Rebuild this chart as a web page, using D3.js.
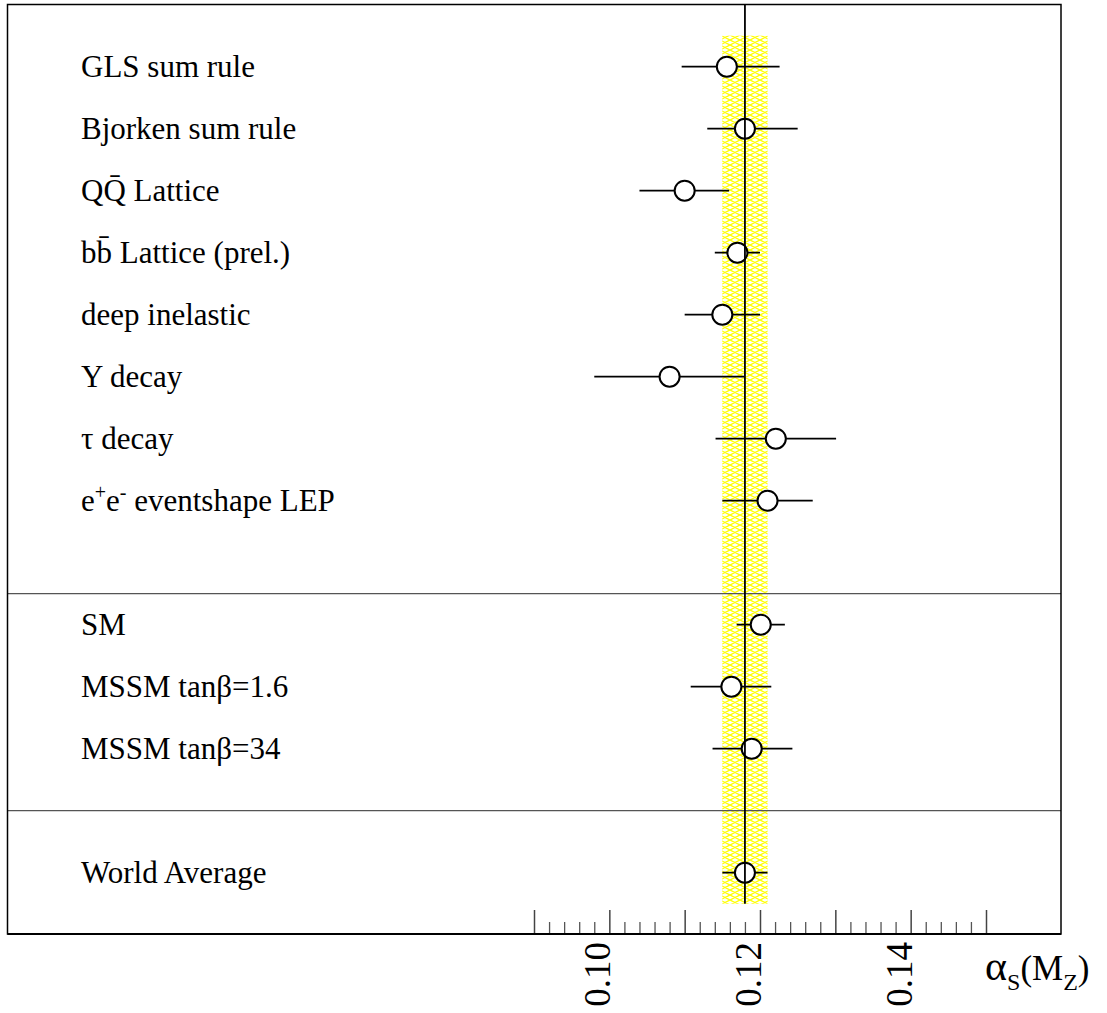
<!DOCTYPE html>
<html>
<head>
<meta charset="utf-8">
<script src="https://cdn.jsdelivr.net/npm/d3@7"></script>
<style>
  html, body { margin: 0; padding: 0; background: #fff; }
  svg { display: block; }
</style>
</head>
<body>
<svg id="chart" width="1107" height="1013" font-family="'Liberation Serif', 'Times New Roman', Times, 'DejaVu Serif', serif"></svg>
<script>
// ---------------- data ----------------
const labels = [
  "GLS sum rule", "Bjorken sum rule", "QQ\u0304 Lattice", "bb\u0304 Lattice (prel.)",
  "deep inelastic", "\u03A5 decay", "\u03C4 decay", "e+e- eventshape LEP",
  "SM", "MSSM tan\u03B2=1.6", "MSSM tan\u03B2=34", "World Average"
];
const rows      = [0, 1, 2, 3, 4, 5, 6, 7, 9, 10, 11, 13];
const centers   = [0.1156, 0.1180, 0.1100, 0.1170, 0.1150, 0.1080, 0.1221, 0.1210, 0.1201, 0.1162, 0.1189, 0.1180];
const lows      = [0.1096, 0.1130, 0.1040, 0.1140, 0.1100, 0.0980, 0.1141, 0.1150, 0.1169, 0.1108, 0.1137, 0.1150];
const highs     = [0.1226, 0.1250, 0.1159, 0.1200, 0.1200, 0.1179, 0.1301, 0.1270, 0.1233, 0.1215, 0.1243, 0.1210];
const separators = [8.5, 12];
const average = 0.118, bandLow = 0.115, bandHigh = 0.121;
const majorTicks = [0.09, 0.10, 0.11, 0.12, 0.13, 0.14, 0.15];
const tickLabels = ["0.10", "0.12", "0.14"];
const tickLabelValues = [0.10, 0.12, 0.14];

// ---------------- layout ----------------
const svg = d3.select("#chart");
const frameL = 7.5, frameR = 1061, frameT = 4.5, frameB = 934;
const serif = "'Liberation Serif', 'Times New Roman', Times, 'DejaVu Serif', serif";

const x = d3.scaleLinear().domain([0.09, 0.15]).range([534, 986]);
const y = d3.scaleLinear().domain([-1, 14]).range([4.7, 934.7]);

// hatch pattern for band
const defs = svg.append("defs");
const pat = defs.append("pattern")
  .attr("id", "hatch").attr("patternUnits", "userSpaceOnUse")
  .attr("width", 10).attr("height", 5);
pat.append("rect").attr("width", 10).attr("height", 5).attr("fill", "#fff");
pat.append("path")
  .attr("d", "M0,0 L5,2.5 L10,0 M0,5 L5,2.5 L10,5")
  .attr("stroke", "#ffff00").attr("stroke-width", 1.3).attr("fill", "none");

// band
svg.append("rect")
  .attr("x", x(bandLow)).attr("y", y(-0.5))
  .attr("width", x(bandHigh) - x(bandLow))
  .attr("height", y(13.5) - y(-0.5))
  .attr("fill", "url(#hatch)");

// separators
svg.selectAll("line.sep").data(separators).enter().append("line")
  .attr("class", "sep")
  .attr("x1", frameL).attr("x2", frameR)
  .attr("y1", d => y(d)).attr("y2", d => y(d))
  .attr("stroke", "#555").attr("stroke-width", 1.2);

// frame
svg.append("rect")
  .attr("x", frameL).attr("y", frameT)
  .attr("width", frameR - frameL).attr("height", frameB - frameT)
  .attr("fill", "none").attr("stroke", "#000").attr("stroke-width", 1.5);

// axis ticks (pointing up, inside frame)
const minorTicks = d3.range(0, 31).map(i => +(0.09 + i * 0.002).toFixed(3))
  .filter(v => !majorTicks.some(m => Math.abs(m - v) < 1e-9));
const axisG = svg.append("g").attr("transform", `translate(0,${frameB})`);
axisG.append("g").call(d3.axisTop(x).tickValues(minorTicks).tickSize(12).tickFormat(""))
  .call(g => g.select(".domain").remove())
  .call(g => g.selectAll("line").attr("stroke", "#555").attr("stroke-width", 1.3));
axisG.append("g").call(d3.axisTop(x).tickValues(majorTicks).tickSize(24).tickFormat(""))
  .call(g => g.select(".domain").remove())
  .call(g => g.selectAll("line").attr("stroke", "#444").attr("stroke-width", 1.5));
svg.append("line")
  .attr("x1", frameL).attr("x2", frameR).attr("y1", frameB).attr("y2", frameB)
  .attr("stroke", "#000").attr("stroke-width", 2);

// tick labels, rotated
svg.selectAll("text.tl").data(tickLabelValues).enter().append("text")
  .attr("class", "tl")
  .attr("transform", d => `translate(${x(d) + 1},${942}) rotate(-90)`)
  .attr("text-anchor", "end")
  .attr("font-family", serif)
  .style("font-size", "37px")
  .text((d, i) => tickLabels[i]);

// axis title
const title = svg.append("text").attr("x", 985).attr("y", 980)
  .attr("font-family", serif).style("font-size", "35px");
title.append("tspan").style("font-size", "42px").text("\u03B1");
title.append("tspan").attr("dy", 10).style("font-size", "24px").text("S");
title.append("tspan").attr("dy", -10).text("(M");
title.append("tspan").attr("dy", 10).style("font-size", "24px").text("Z");
title.append("tspan").attr("dy", -10).text(")");

// error bars
const pts = labels.map((l, i) => ({label: l, row: rows[i], c: centers[i], lo: lows[i], hi: highs[i]}));
svg.selectAll("line.err").data(pts).enter().append("line")
  .attr("class", "err")
  .attr("x1", d => x(d.lo)).attr("x2", d => x(d.hi))
  .attr("y1", d => y(d.row)).attr("y2", d => y(d.row))
  .attr("stroke", "#000").attr("stroke-width", 1.7);

// markers
svg.selectAll("circle.pt").data(pts).enter().append("circle")
  .attr("class", "pt")
  .attr("cx", d => x(d.c)).attr("cy", d => y(d.row)).attr("r", 10)
  .attr("fill", "#fff").attr("stroke", "#000").attr("stroke-width", 2);

// average line
svg.append("line")
  .attr("x1", x(average)).attr("x2", x(average))
  .attr("y1", frameT).attr("y2", y(13.5))
  .attr("stroke", "#000").attr("stroke-width", 1.8);

// labels
const lab = svg.selectAll("text.lab").data(pts).enter().append("text")
  .attr("class", "lab")
  .attr("x", 81).attr("y", d => y(d.row) + 10)
  .attr("font-family", serif)
  .style("font-size", "31px");
lab.each(function(d) {
  const t = d3.select(this);
  if (d.label.startsWith("e+e-")) {
    t.append("tspan").text("e");
    t.append("tspan").attr("dy", -12).style("font-size", "20px").text("+");
    t.append("tspan").attr("dy", 12).text("e");
    t.append("tspan").attr("dy", -12).style("font-size", "20px").text("-");
    t.append("tspan").attr("dy", 12).text(" eventshape LEP");
  } else {
    t.text(d.label);
  }
});
</script>
</body>
</html>
